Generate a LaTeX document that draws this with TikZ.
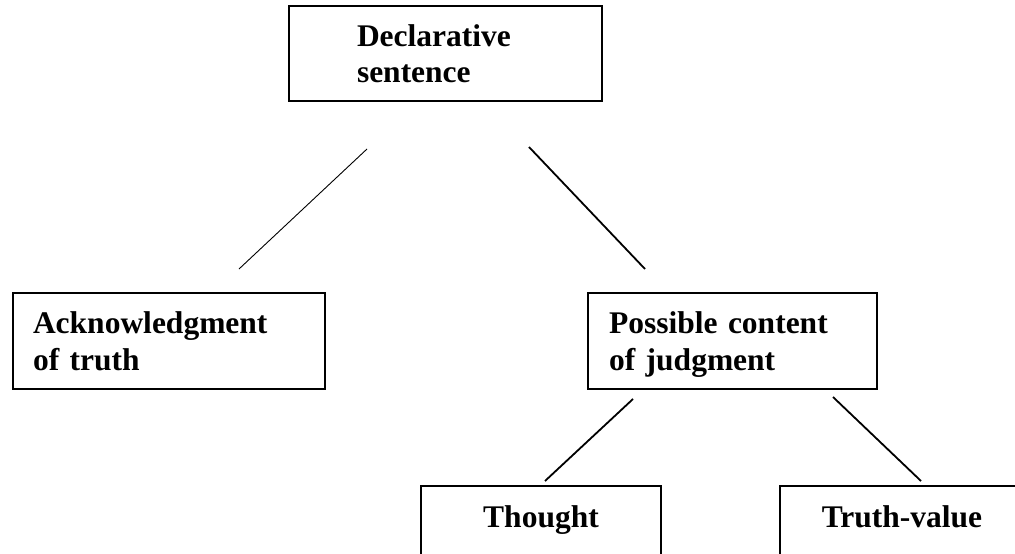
\documentclass[tikz,border=0pt]{standalone}
\usepackage{fontspec}
\setmainfont{Liberation Serif}
\begin{document}
\begin{tikzpicture}[x=1pt,y=-1pt,
  txt/.style={font=\fontsize{31.5}{36.2}\selectfont\bfseries},
  box/.style={draw, line width=1.8pt, rectangle, inner sep=0pt, txt},
  twoline/.style={box, align=left, text height=22pt, text depth=36.2pt},
  lowbox/.style={box, anchor=north, align=center, text height=42pt, text depth=73pt},
  thin/.style={line width=0.9pt},
  thick/.style={line width=1.8pt}]
\clip (0,0) rectangle (1015,554);
% boxes
\node[twoline, minimum width=313pt, minimum height=95pt, text width=177pt] (decl) at (445.5,53.5) {Declarative\\sentence};
\node[twoline, minimum width=312pt, minimum height=96pt, text width=272pt] (ack) at (169,341) {Acknowledgment\\of truth};
\node[twoline, minimum width=289pt, minimum height=96pt, text width=247pt] (poss) at (732.5,341) {Possible content\\of judgment};
\node[lowbox, minimum width=240pt] (thought) at (541,485) {Thought};
\node[lowbox, minimum width=244pt] (truth) at (902,485) {Truth-value};
% connector ends
\coordinate (d1) at (367,149);
\coordinate (a1) at (239,269);
\coordinate (d2) at (529,147);
\coordinate (p1) at (645,269);
\coordinate (p2) at (633,399);
\coordinate (t1) at (545,481);
\coordinate (p3) at (833,397);
\coordinate (v1) at (921,481);
\draw[thin] (d1) -- (a1);
\draw[thick] (d2) -- (p1);
\draw[thick] (p2) -- (t1);
\draw[thick] (p3) -- (v1);
\end{tikzpicture}
\end{document}
